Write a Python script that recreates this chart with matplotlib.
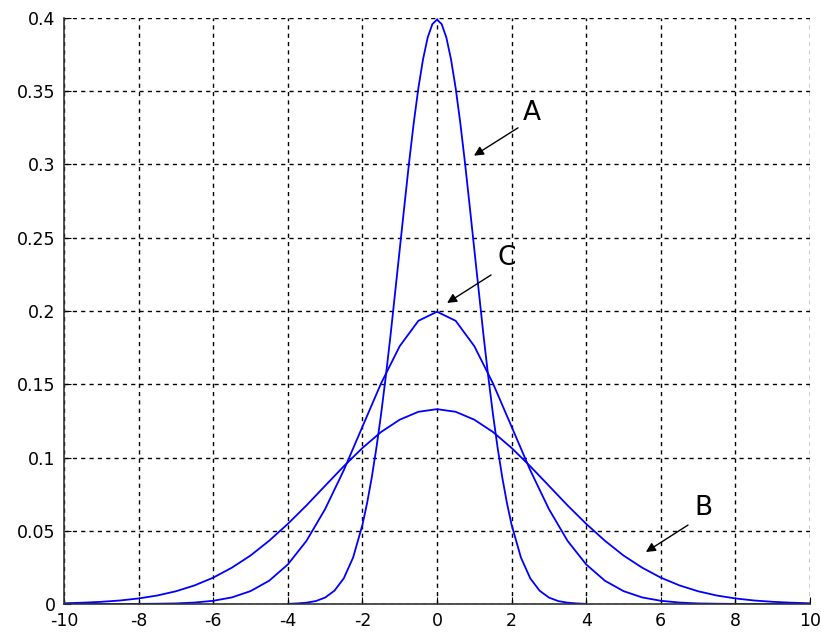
import matplotlib.pyplot as plt

# curve A (sigma ~1), finer sampling near the peak
x_a = [-4.0, -3.75, -3.5, -3.25, -3.0, -2.75, -2.5, -2.25,
       -2.0, -1.875, -1.75, -1.625, -1.5, -1.375, -1.25, -1.125,
       -1.0, -0.875, -0.75, -0.625, -0.5, -0.375, -0.25, -0.125,
       0.0, 0.125, 0.25, 0.375, 0.5, 0.625, 0.75, 0.875,
       1.0, 1.125, 1.25, 1.375, 1.5, 1.625, 1.75, 1.875,
       2.0, 2.25, 2.5, 2.75, 3.0, 3.25, 3.5, 3.75, 4.0]
y_a = [0.0001, 0.0004, 0.0009, 0.0020, 0.0044, 0.0091, 0.0175, 0.0317,
       0.0540, 0.0689, 0.0863, 0.1066, 0.1295, 0.1550, 0.1826, 0.2122,
       0.2420, 0.2718, 0.3011, 0.3282, 0.3521, 0.3718, 0.3867, 0.3958,
       0.3989, 0.3958, 0.3867, 0.3718, 0.3521, 0.3282, 0.3011, 0.2718,
       0.2420, 0.2122, 0.1826, 0.1550, 0.1295, 0.1066, 0.0863, 0.0689,
       0.0540, 0.0317, 0.0175, 0.0091, 0.0044, 0.0020, 0.0009, 0.0004, 0.0001]

# curves B and C, sampled every 0.5 from -10 to 10
x_bc = [-10.0, -9.5, -9.0, -8.5, -8.0, -7.5, -7.0, -6.5, -6.0, -5.5, -5.0, -4.5, -4.0,
        -3.5, -3.0, -2.5, -2.0, -1.5, -1.0, -0.5, 0.0, 0.5, 1.0, 1.5, 2.0, 2.5, 3.0,
        3.5, 4.0, 4.5, 5.0, 5.5, 6.0, 6.5, 7.0, 7.5, 8.0, 8.5, 9.0, 9.5, 10.0]
y_c = [0.0, 0.0, 0.0, 0.0, 0.0001, 0.0002, 0.0004, 0.0010, 0.0022, 0.0045, 0.0088,
       0.0159, 0.0270, 0.0431, 0.0648, 0.0913, 0.1210, 0.1506, 0.1760, 0.1933, 0.1995,
       0.1933, 0.1760, 0.1506, 0.1210, 0.0913, 0.0648, 0.0431, 0.0270, 0.0159, 0.0088,
       0.0045, 0.0022, 0.0010, 0.0004, 0.0002, 0.0001, 0.0, 0.0, 0.0, 0.0]
y_b = [0.0005, 0.0009, 0.0015, 0.0024, 0.0038, 0.0058, 0.0087, 0.0127, 0.0180, 0.0248,
       0.0331, 0.0432, 0.0547, 0.0673, 0.0807, 0.0940, 0.1065, 0.1174, 0.1258, 0.1312,
       0.1330, 0.1312, 0.1258, 0.1174, 0.1065, 0.0940, 0.0807, 0.0673, 0.0547, 0.0432,
       0.0331, 0.0248, 0.0180, 0.0127, 0.0087, 0.0058, 0.0038, 0.0024, 0.0015, 0.0009,
       0.0005]

x_ticks = [-10, -8, -6, -4, -2, 0, 2, 4, 6, 8, 10]
y_ticks = [0, 0.05, 0.1, 0.15, 0.2, 0.25, 0.3, 0.35, 0.4]
y_tick_labels = ["0", "0.05", "0.1", "0.15", "0.2", "0.25", "0.3", "0.35", "0.4"]

# label, text position, arrow tail and tip
labels = ["A", "C", "B"]
label_pos = [(2.55, 0.335), (1.88, 0.236), (7.13, 0.0655)]
arrow_tail = [(2.17, 0.325), (1.45, 0.2246), (6.73, 0.0539)]
arrow_tip = [(0.99, 0.306), (0.27, 0.2055), (5.60, 0.0355)]

fig = plt.figure(figsize=(8.21, 6.33), dpi=100)
ax = fig.add_axes([0.078, 0.0458, 0.9086, 0.9258])

ax.plot(x_a, y_a, color="#0000ff", lw=1.3)
ax.plot(x_bc, y_c, color="#0000ff", lw=1.3)
ax.plot(x_bc, y_b, color="#0000ff", lw=1.3)

for text, pos, tail, tip in zip(labels, label_pos, arrow_tail, arrow_tip):
    ax.text(pos[0], pos[1], text, fontsize=19, ha="center", va="center")
    ax.annotate("", xy=tip, xytext=tail,
                arrowprops=dict(arrowstyle="-|>", color="black", lw=1.0,
                                mutation_scale=14, shrinkA=0, shrinkB=0))

ax.set_xlim(-10, 10)
ax.set_ylim(0, 0.4)
ax.set_xticks(x_ticks)
ax.set_xticklabels([str(t) for t in x_ticks])
ax.set_yticks(y_ticks)
ax.set_yticklabels(y_tick_labels)
ax.tick_params(direction="in", length=5, labelsize=12.5, colors="black")
ax.tick_params(axis="x", pad=6)
ax.tick_params(axis="y", pad=6)
ax.grid(True, color="black", linestyle=(0, (3, 3)), lw=1.0)
ax.spines["top"].set_visible(False)
ax.spines["right"].set_visible(False)
for side in ["left", "bottom"]:
    ax.spines[side].set_linewidth(1.2)
    ax.spines[side].set_color("#333333")

fig.savefig("out.png", dpi=100)
